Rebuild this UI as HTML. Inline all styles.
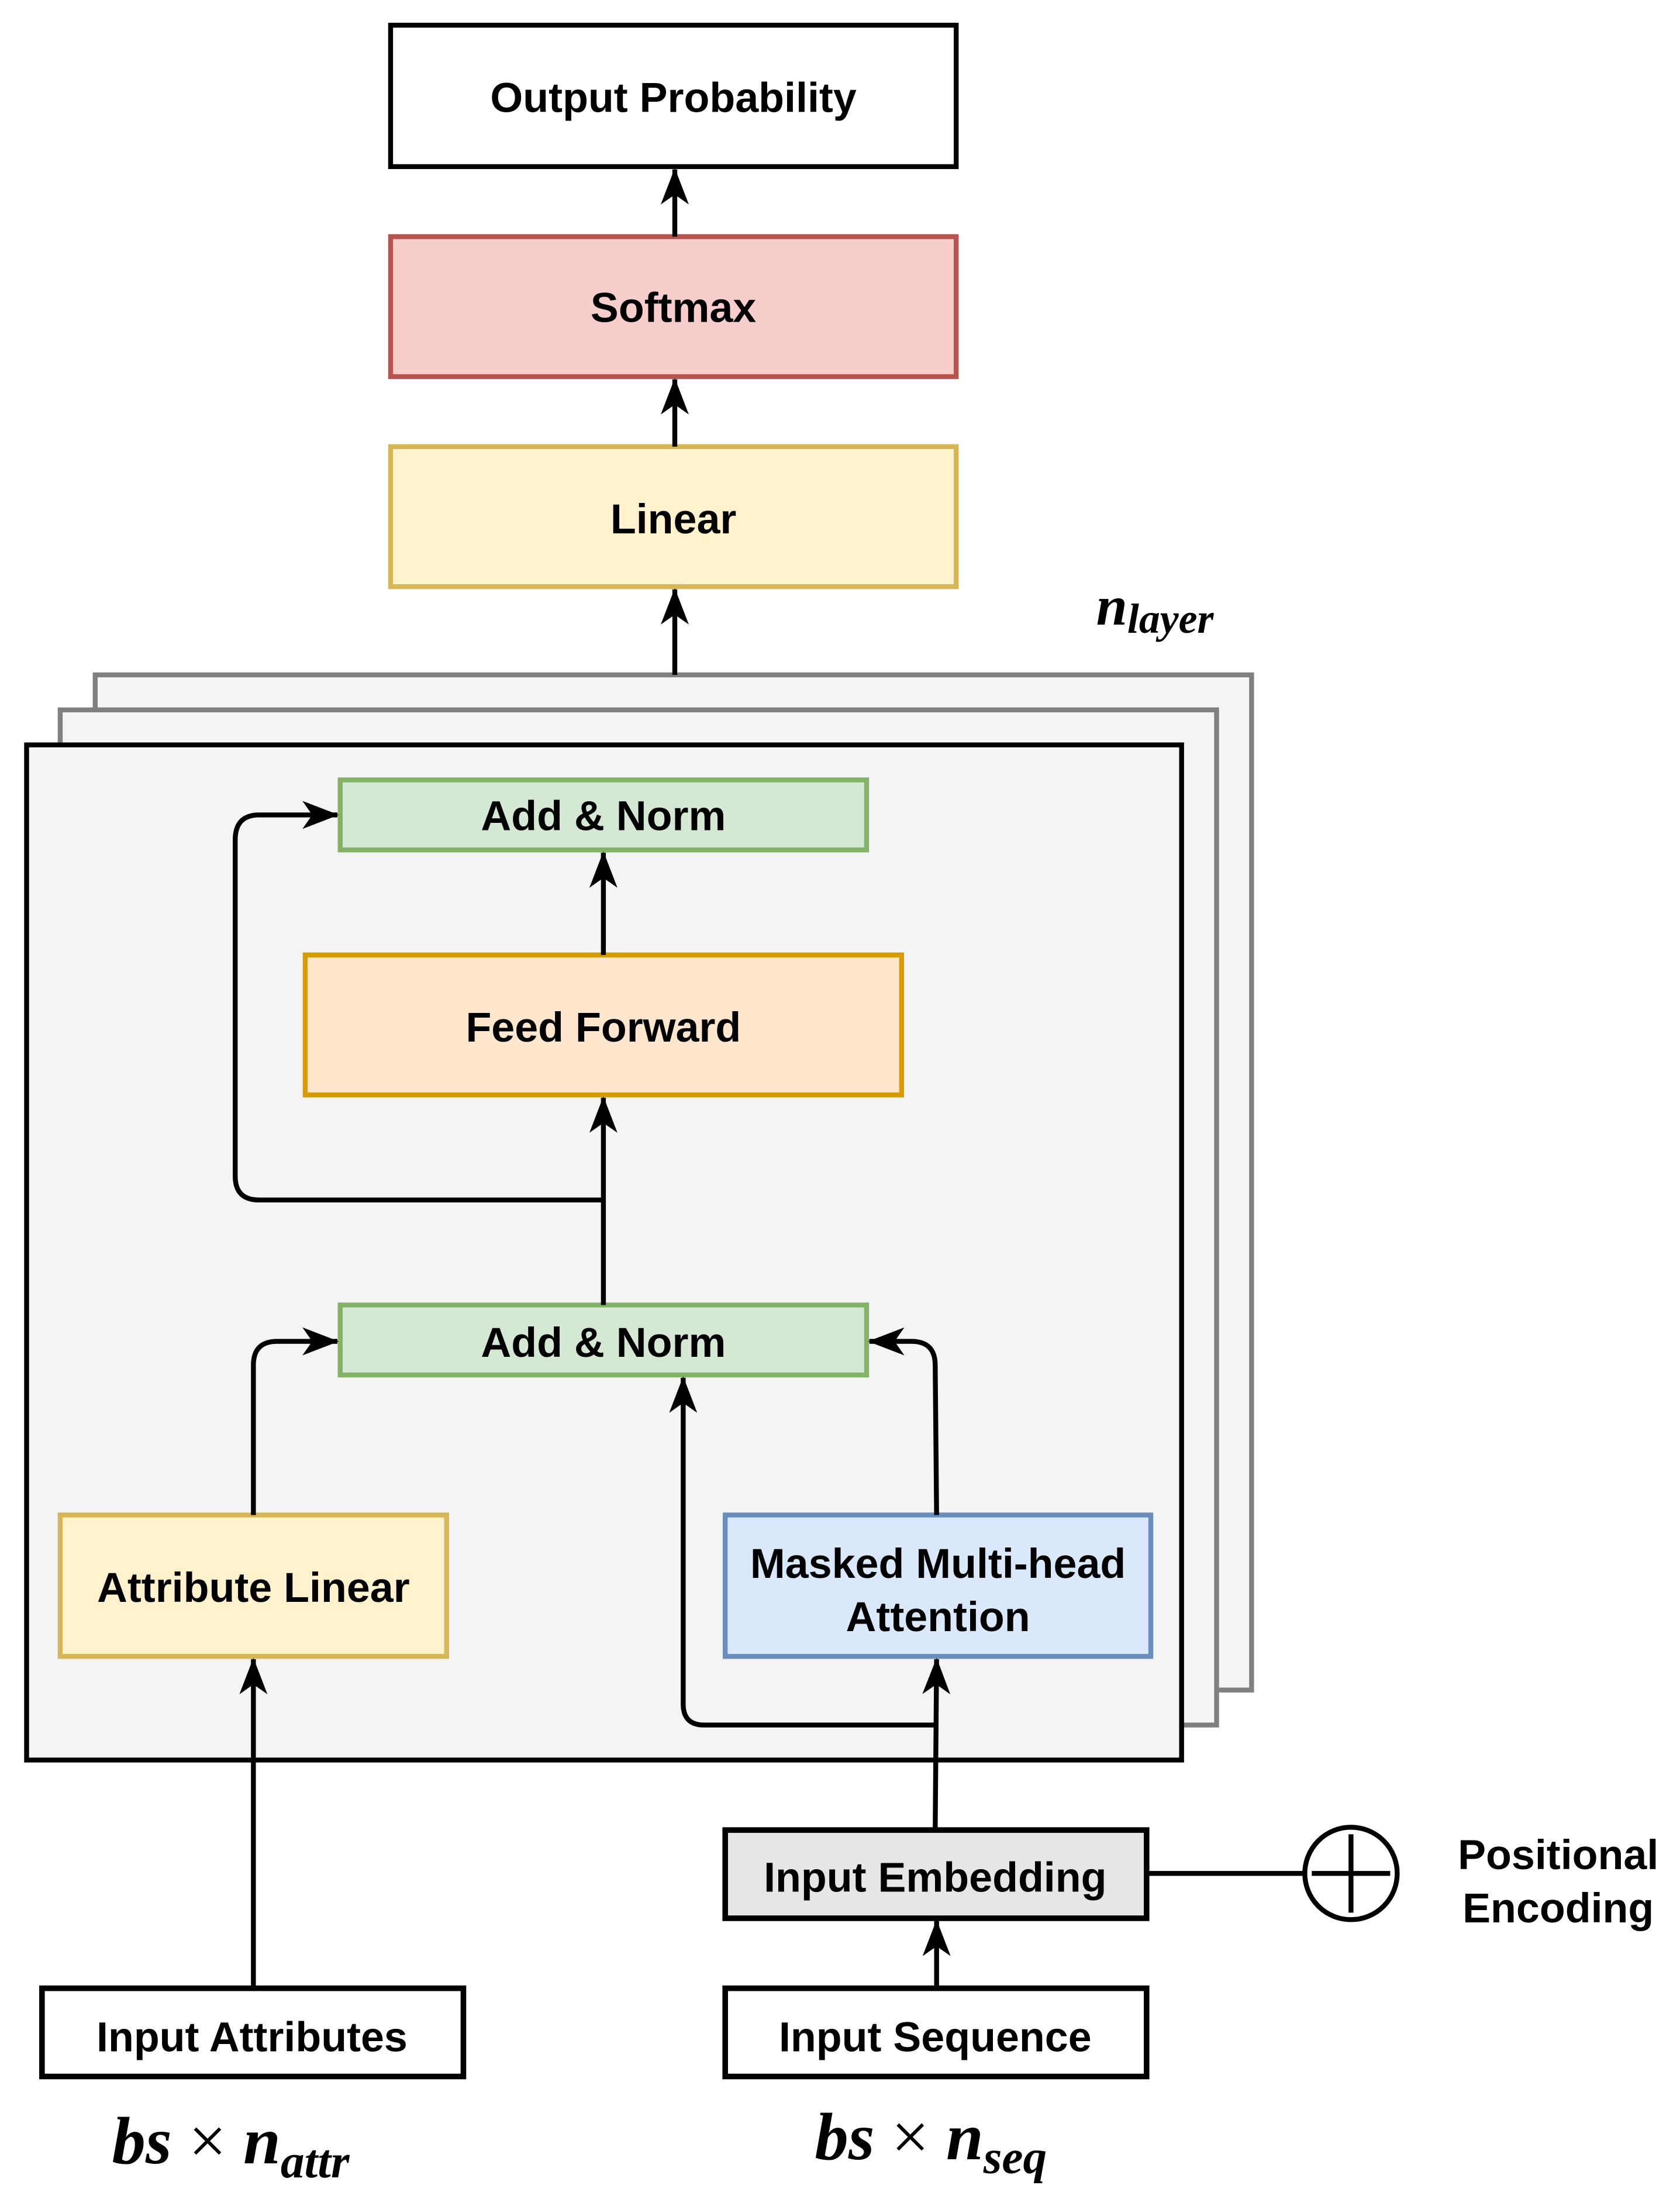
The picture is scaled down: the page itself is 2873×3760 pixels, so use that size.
<!DOCTYPE html>
<html><head><meta charset="utf-8"><style>
html,body{margin:0;padding:0;background:#fff}
svg{display:block}
text{font-family:"Liberation Sans",sans-serif;font-weight:bold;fill:#000}
.m{font-family:"Liberation Serif",serif;font-style:italic;font-weight:bold}
</style></head><body>
<svg width="2873" height="3760" viewBox="0 0 1200 1570.5" preserveAspectRatio="none" xmlns="http://www.w3.org/2000/svg">
<defs>
<marker id="a" viewBox="0 0 26 20" refX="25" refY="10" markerWidth="26" markerHeight="20" markerUnits="userSpaceOnUse" orient="auto">
<path d="M0,0 L26,10 L0,20 L7,10 Z" fill="#000"/>
</marker>
</defs>
<g stroke-width="3.5">
<rect x="279" y="18" width="404" height="101" fill="#fff" stroke="#000"/>
<rect x="279" y="169" width="404" height="100" fill="#f8cecc" stroke="#b85450"/>
<rect x="279" y="319" width="404" height="100" fill="#fff2cc" stroke="#d6b656"/>
<rect x="68" y="482" width="826" height="725" fill="#f5f5f5" stroke="#808080"/>
<rect x="43" y="507" width="826" height="725" fill="#f5f5f5" stroke="#808080"/>
<rect x="19" y="532" width="825" height="725" fill="#f4f4f4" stroke="#000"/>
<rect x="243" y="557" width="376" height="50" fill="#d5e8d4" stroke="#82b366"/>
<rect x="218" y="682" width="426" height="100" fill="#ffe6cc" stroke="#d79b00"/>
<rect x="243" y="932" width="376" height="50" fill="#d5e8d4" stroke="#82b366"/>
<rect x="43" y="1082" width="276" height="101" fill="#fff2cc" stroke="#d6b656"/>
<rect x="518" y="1082" width="304" height="101" fill="#dae8fc" stroke="#6c8ebf"/>
<rect x="518" y="1307" width="301" height="63" fill="#e6e6e6" stroke="#000" stroke-width="4"/>
<rect x="30" y="1420" width="301" height="63" fill="#fff" stroke="#000" stroke-width="4"/>
<rect x="518" y="1420" width="301" height="63" fill="#fff" stroke="#000" stroke-width="4"/>
</g>
<g fill="none" stroke="#000" stroke-width="3.5">
<path d="M482,169 V121" marker-end="url(#a)"/>
<path d="M482,319 V271" marker-end="url(#a)"/>
<path d="M482,482 V421" marker-end="url(#a)"/>
<path d="M431,682 V609" marker-end="url(#a)"/>
<path d="M431,932 V784" marker-end="url(#a)"/>
<path d="M431,857 H185 Q168,857 168,840 V600 Q168,582 185,582 H241" marker-end="url(#a)"/>
<path d="M181,1082 V975 Q181,958 198,958 H241" marker-end="url(#a)"/>
<path d="M669,1082 L668,975 Q668,958 651,958 H621" marker-end="url(#a)"/>
<path d="M669,1232 H503 Q488,1232 488,1217 L488,984" marker-end="url(#a)"/>
<path d="M668,1307 L669,1185" marker-end="url(#a)"/>
<path d="M181,1420 V1185" marker-end="url(#a)"/>
<path d="M669,1420 V1372" marker-end="url(#a)"/>
<path d="M819,1338 H932"/>
<circle cx="965" cy="1338" r="33" fill="#fff"/>
<path d="M965,1310 V1366 M937,1338 H993"/>
</g>
<g font-size="30" text-anchor="middle">
<text x="481" y="80">Output Probability</text>
<text x="481" y="230">Softmax</text>
<text x="481" y="381">Linear</text>
<text x="431" y="593">Add &amp; Norm</text>
<text x="431" y="744">Feed Forward</text>
<text x="431" y="969">Add &amp; Norm</text>
<text x="181" y="1144">Attribute Linear</text>
<text x="670" y="1127">Masked Multi-head</text>
<text x="670" y="1165">Attention</text>
<text x="668" y="1351">Input Embedding</text>
<text x="180" y="1465">Input Attributes</text>
<text x="668" y="1465">Input Sequence</text>
<text x="1113" y="1335">Positional</text>
<text x="1113" y="1373">Encoding</text>
</g>
<text class="m" x="783" y="446" font-size="40">n<tspan font-size="30" dy="6">layer</tspan></text>
<text class="m" x="80" y="1545" font-size="48">bs <tspan font-style="normal" font-weight="normal">×</tspan> n<tspan font-size="34" dy="10">attr</tspan></text>
<text class="m" x="582" y="1542" font-size="48">bs <tspan font-style="normal" font-weight="normal">×</tspan> n<tspan font-size="34" dy="10">seq</tspan></text>
</svg>
</body></html>
